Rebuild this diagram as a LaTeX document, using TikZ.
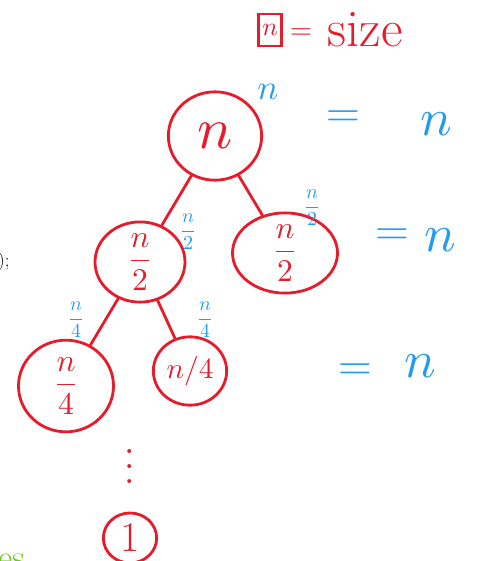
\documentclass[tikz,border=0pt]{standalone}
\usepackage{fontspec}
\usepackage{amsmath}
\usepackage{graphicx}
\usetikzlibrary{shapes.geometric}
\definecolor{inkred}{RGB}{228,28,44}
\definecolor{inkblue}{RGB}{36,154,240}
\definecolor{inkgreen}{RGB}{110,200,20}
\newcommand{\ink}[2]{\scalebox{#1}{$#2$}}

\begin{document}
\begin{tikzpicture}[x=0.03cm, y=-0.03cm,
        call/.style={ellipse, draw=inkred, line width=2.4pt, text=inkred, inner sep=0pt},
        size/.style={text=inkblue},
        total/.style={text=inkblue, font=\fontsize{40}{40}\selectfont},
        edge/.style={-, line width=2.4pt, line cap=round, draw=inkred}
    ]
        \useasboundingbox (0,0) rectangle (477,561);

        % --- TITLE ---
        \node[draw=inkred, line width=2pt, text=inkred, inner sep=1pt, minimum width=0.7cm, minimum height=0.95cm] (box) at (270,30) {\ink{2.2}{n}};
        \node[text=inkred, font=\fontsize{26}{26}\selectfont] (eq) at (301,34) {=};
        \node[text=inkred, font=\fontsize{45}{45}\selectfont] (word) at (365,30) {size};

        % --- CALLS ---
        \node[call, minimum width=2.8cm, minimum height=2.65cm] (root) at (215,136) {\ink{5}{n}};
        \node[call, minimum width=2.7cm, minimum height=2.0cm] (half1) at (140,262) {\ink{2.7}{\dfrac{n}{2}}};
        \node[call, minimum width=3.15cm, minimum height=2.25cm] (half2) at (285,253) {\ink{2.7}{\dfrac{n}{2}}};
        \node[call, minimum width=2.85cm, minimum height=2.75cm] (quart1) at (66,386) {\ink{2.7}{\dfrac{n}{4}}};
        \node[call, minimum width=2.2cm, minimum height=2.05cm] (quart2) at (190,371) {\ink{2.5}{n/4}};
        \node[text=inkred] (dots) at (130,455) {\ink{3.2}{\vdots}};
        \node[call, minimum width=1.6cm, minimum height=1.5cm, font=\fontsize{36}{36}\selectfont] (one) at (130,538) {1};

        % --- CONNECTIONS ---
        \draw[edge] (root) -- (half1);
        \draw[edge] (root) -- (half2);
        \draw[edge] (half1) -- (quart1);
        \draw[edge] (half1) -- (quart2);

        % --- SIZES ---
        \node[size] (s0) at (268,92) {\ink{3}{n}};
        \node[size] (s1) at (188,232) {\ink{1.7}{\dfrac{n}{2}}};
        \node[size] (s2) at (312,208) {\ink{1.7}{\dfrac{n}{2}}};
        \node[size] (s3) at (76,320) {\ink{1.7}{\dfrac{n}{4}}};
        \node[size] (s4) at (205,320) {\ink{1.7}{\dfrac{n}{4}}};

        % --- LEVEL TOTALS ---
        \node[total] (eq1) at (343,119) {=};
        \node[size] (n1) at (436,124) {\ink{4.5}{n}};
        \node[total] (eq2) at (392,237) {=};
        \node[size] (n2) at (440,240) {\ink{4.5}{n}};
        \node[total] (eq3) at (355,372) {=};
        \node[size] (n3) at (420,366) {\ink{4.5}{n}};

        % --- CUT-OFF TEXT AT THE EDGES ---
        \node[anchor=west, font=\fontsize{16}{16}\selectfont] (code) at (-6,262) {);};
        \node[anchor=west, text=inkgreen, font=\fontsize{30}{30}\selectfont] (green) at (-6,562) {es};

    \end{tikzpicture}
\end{document}
